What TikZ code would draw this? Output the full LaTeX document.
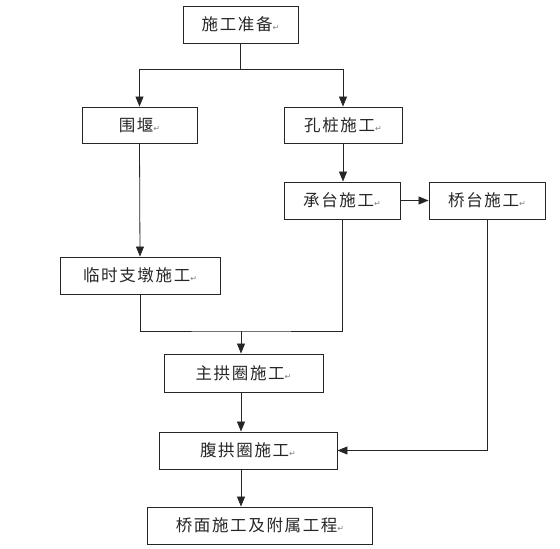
\documentclass[tikz,border=0pt]{standalone}
\usepackage{fontspec}
\setmainfont{Noto Sans CJK SC}[LetterSpace=10]
\newfontfamily\markfont{DejaVu Sans}
\usetikzlibrary{arrows.meta}
\newcommand{\pmark}{{\markfont\fontsize{8}{9}\selectfont\color{gray}↵}}
\begin{document}
\begin{tikzpicture}[x=1pt,y=-1pt,
  box/.style={draw=black!85,line width=0.9pt,rectangle,inner sep=0pt,
    minimum height=37pt,font=\fontsize{16.5}{18}\selectfont,text=black!85},
  conn/.style={line width=0.8pt,draw=black!85},
  arr/.style={conn,-{Triangle[length=10pt,width=8pt]}}]
\useasboundingbox (0,0) rectangle (560,549);
\node[box,minimum width=115pt] (A) at (240.5,24.5) {施工准备\pmark};
\node[box,minimum width=115pt,minimum height=36pt] (B) at (139.5,125) {围堰\pmark};
\node[box,minimum width=118pt,minimum height=36pt] (C) at (343,125) {孔桩施工\pmark};
\node[box,minimum width=116pt] (D) at (342,200.5) {承台施工\pmark};
\node[box,minimum width=116pt] (E) at (487,200.5) {桥台施工\pmark};
\node[box,minimum width=160pt] (F) at (140,275.5) {临时支墩施工\pmark};
\node[box,minimum width=159pt,minimum height=38pt] (G) at (243.5,373) {主拱圈施工\pmark};
\node[box,minimum width=178pt] (H) at (248,450.5) {腹拱圈施工\pmark};
\node[box,minimum width=225pt] (I) at (260,525.5) {桥面施工及附属工程\pmark};
\coordinate (j1) at (240.5,69);
\coordinate (j2) at (241,331);
\draw[conn] (A.south) -- (j1);
\draw[arr] (j1) -| (B.north);
\draw[arr] (j1) -| (C.north);
\draw[arr] (C.south) -- (C.south |- D.north);
\draw[arr] (D.east) -- (E.west);
\draw[arr] (B.south) -- (F.north);
\draw[conn] (F.south) |- (j2) -| (D.south);
\draw[arr] (j2) -- (j2 |- G.north);
\draw[arr] (G.south -| j2) -- (H.north -| j2);
\draw[arr] (H.south -| j2) -- (I.north -| j2);
\draw[arr] (E.south) |- (H.east);
\end{tikzpicture}
\end{document}
